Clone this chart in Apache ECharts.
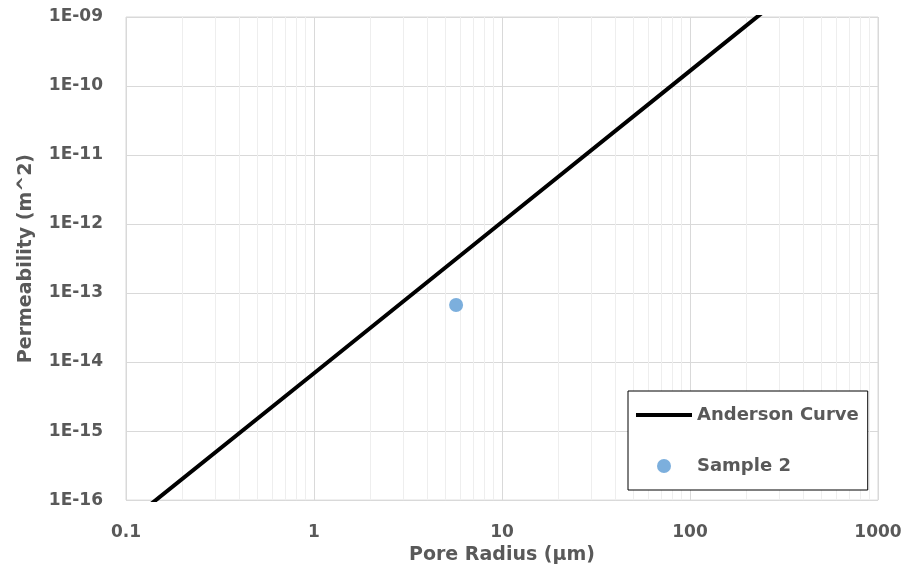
<!DOCTYPE html>
<html>
<head>
<meta charset="utf-8">
<script src="https://cdn.jsdelivr.net/npm/echarts@6/dist/echarts.min.js"></script>
<style>
  html, body { margin: 0; padding: 0; background: #fff; overflow: hidden; }
  #chart { width: 907px; height: 570px; }
</style>
</head>
<body>
<div id="chart"></div>
<script>
'use strict';

// Anderson curve (power law, straight on log-log)
var curveRadius = [0.1, 1, 10, 100, 1000];
var curvePerm = [4.5e-17, 6.9e-15, 1.07e-12, 1.66e-10, 2.57e-8];

// measured sample
var sampleRadius = [5.7];
var samplePerm = [6.7e-14];

var xDecades = [-1, 0, 1, 2];       // 0.1 .. 1000
var yDecades = [-16, -15, -14, -13, -12, -11, -10];  // 1E-16 .. 1E-09

var textColor = '#595959';
var font = 'DejaVu Sans';

// minor gridlines at 2..9 of each decade, as in Excel
function minorValues(decades) {
  var out = [];
  decades.forEach(function (d) {
    for (var m = 2; m <= 9; m++) out.push(m * Math.pow(10, d));
  });
  return out;
}

function sciLabel(v) {
  var e = Math.round(Math.log10(v));
  var a = Math.abs(e);
  return '1E' + (e < 0 ? '-' : '+') + (a < 10 ? '0' + a : a);
}

var minorLines = [];
minorValues(xDecades).forEach(function (v) { minorLines.push({ xAxis: v }); });
minorValues(yDecades).forEach(function (v) { minorLines.push({ yAxis: v }); });

var chart = echarts.init(document.getElementById('chart'));
var option = {
  animation: false,
  backgroundColor: '#fff',
  textStyle: { fontFamily: font },
  grid: {
    left: 126, right: 29, top: 17, height: 488,
    show: true, borderColor: '#d9d9d9', borderWidth: 1
  },
  xAxis: {
    type: 'log', logBase: 10, min: 0.1, max: 1000,
    name: 'Pore Radius (µm)', nameLocation: 'middle', nameGap: 42,
    nameTextStyle: { color: textColor, fontSize: 19, fontWeight: 'bold', fontFamily: font },
    axisLine: { show: false },
    axisTick: { show: false },
    axisLabel: {
      color: textColor, fontSize: 17, fontWeight: 'bold', margin: 24,
      formatter: function (v) { return String(+v.toPrecision(3)); }
    },
    splitLine: { show: true, lineStyle: { color: '#d9d9d9', width: 1 } }
  },
  yAxis: {
    type: 'log', logBase: 10, min: 1e-16, max: 1e-9, interval: 1,
    name: 'Permeability (m^2)', nameLocation: 'middle', nameGap: 90,
    nameTextStyle: { color: textColor, fontSize: 19, fontWeight: 'bold', fontFamily: font },
    axisLine: { show: false },
    axisTick: { show: false },
    axisLabel: { color: textColor, fontSize: 17, fontWeight: 'bold', margin: 23, formatter: sciLabel },
    splitLine: { show: true, lineStyle: { color: '#d9d9d9', width: 1 } }
  },
  legend: {
    orient: 'vertical',
    left: 628, top: 391,
    z: 10,
    backgroundColor: '#fff',
    borderColor: '#000', borderWidth: 1,
    padding: [15, 9, 15, 8],
    itemWidth: 56, itemHeight: 14, itemGap: 33,
    textStyle: { color: textColor, fontSize: 18, fontWeight: 'bold', fontFamily: font },
    data: [
      { name: 'Anderson Curve', icon: 'path://M0,0H56V4H0Z' },
      { name: 'Sample 2', icon: 'circle' }
    ]
  },
  series: [
    {
      name: 'grid-minor',
      type: 'line',
      data: [],
      z: 0,
      silent: true,
      markLine: {
        z: 1,
        silent: true,
        symbol: 'none',
        label: { show: false },
        lineStyle: { color: '#eeeeee', width: 1, type: 'solid' },
        emphasis: { disabled: true },
        data: minorLines
      }
    },
    {
      name: 'Anderson Curve',
      type: 'line',
      z: 3,
      symbol: 'none',
      clip: true,
      lineStyle: { color: '#000', width: 4 },
      itemStyle: { color: '#000' },
      data: curveRadius.map(function (r, i) { return [r, curvePerm[i]]; })
    },
    {
      name: 'Sample 2',
      type: 'scatter',
      z: 4,
      symbol: 'circle',
      symbolSize: 14,
      itemStyle: { color: '#5b9bd5' },
      data: sampleRadius.map(function (r, i) { return [r, samplePerm[i]]; })
    }
  ]
};
chart.setOption(option);
</script>
</body>
</html>
